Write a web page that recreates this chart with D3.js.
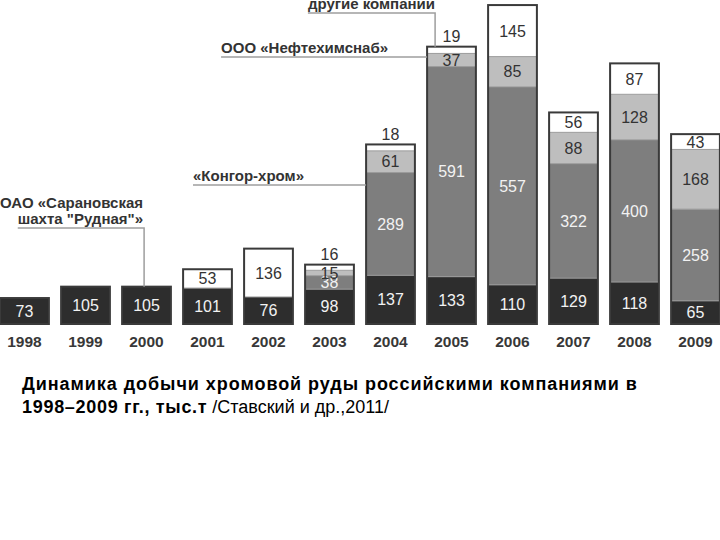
<!DOCTYPE html>
<html lang="ru">

<head>
    <meta charset="UTF-8">
    <title>Добыча хромовой руды 1998–2009</title>
    <script src="https://d3js.org/d3.v7.min.js"></script>
    <style>
        body {
            margin: 0;
            background: #fff;
        }

        svg {
            display: block;
            font-family: "Liberation Sans", Arial, sans-serif;
        }
    </style>
</head>

<body>
    <svg width="720" height="540"></svg>

    <script>
        // данные, тыс. т
        const years = ["1998", "1999", "2000", "2001", "2002", "2003", "2004", "2005", "2006", "2007", "2008", "2009"];
        const saranovskaya = [73, 105, 105, 101, 76, 98, 137, 133, 110, 129, 118, 65];
        const kongor = [0, 0, 0, 0, 0, 38, 289, 591, 557, 322, 400, 258];
        const neftekhim = [0, 0, 0, 0, 0, 15, 61, 37, 85, 88, 128, 168];
        const others = [0, 0, 0, 53, 136, 16, 18, 19, 145, 56, 87, 43];

        const keys = ["saranovskaya", "kongor", "neftekhim", "others"];
        const fills = { saranovskaya: "#2d2d2d", kongor: "#7e7e7e", neftekhim: "#bebebe", others: "#ffffff" };
        const textFill = { saranovskaya: "#f2f2f2", kongor: "#f2f2f2", neftekhim: "#333", others: "#333" };

        const table = years.map((y, i) => ({
            year: y,
            saranovskaya: saranovskaya[i],
            kongor: kongor[i],
            neftekhim: neftekhim[i],
            others: others[i]
        }));

        const svg = d3.select("svg");
        const baseY = 324;

        const x = d3.scaleBand()
            .domain(years)
            .range([-6, 726])
            .paddingInner(0.2)
            .paddingOuter(0.1);

        const y = d3.scaleLinear()
            .domain([0, 900])
            .range([baseY, 4]);

        const series = d3.stack().keys(keys)(table);

        // сегменты столбцов
        const layer = svg.append("g").selectAll("g")
            .data(series)
            .join("g")
            .attr("fill", d => fills[d.key]);

        layer.selectAll("rect")
            .data(d => d.filter(p => p[1] > p[0]))
            .join("rect")
            .attr("x", d => x(d.data.year))
            .attr("y", d => y(d[1]))
            .attr("width", x.bandwidth())
            .attr("height", d => y(d[0]) - y(d[1]));

        // тонкие границы между сегментами
        layer.selectAll("line")
            .data(d => d.filter(p => p[1] > p[0] && p[0] > 0))
            .join("line")
            .attr("x1", d => x(d.data.year))
            .attr("x2", d => x(d.data.year) + x.bandwidth())
            .attr("y1", d => y(d[0]))
            .attr("y2", d => y(d[0]))
            .attr("stroke", "#9a9a9a")
            .attr("stroke-width", 1);

        // контур столбца
        svg.append("g").selectAll("rect")
            .data(table)
            .join("rect")
            .attr("x", d => x(d.year))
            .attr("y", d => y(d3.sum(keys, k => d[k])))
            .attr("width", x.bandwidth())
            .attr("height", d => baseY - y(d3.sum(keys, k => d[k])))
            .attr("fill", "none")
            .attr("stroke", "#3a3a3a")
            .attr("stroke-width", 2);

        // подписи значений
        const labels = [];
        series.forEach(s => {
            s.forEach(p => {
                const v = p[1] - p[0];
                if (v <= 0) return;
                const outside = s.key === "others" && v < 30;
                labels.push({
                    year: p.data.year,
                    value: v,
                    key: s.key,
                    y: outside ? y(p[1]) - 10 : (y(p[0]) + y(p[1])) / 2,
                    color: outside ? "#333" : textFill[s.key]
                });
            });
        });

        svg.append("g").selectAll("text")
            .data(labels)
            .join("text")
            .attr("x", d => x(d.year) + x.bandwidth() / 2)
            .attr("y", d => d.y)
            .attr("dy", "0.36em")
            .attr("text-anchor", "middle")
            .attr("font-size", 16)
            .attr("fill", d => d.color)
            .text(d => d.value);

        // ось X
        svg.append("g").selectAll("text")
            .data(years)
            .join("text")
            .attr("x", d => x(d) + x.bandwidth() / 2)
            .attr("y", 347)
            .attr("text-anchor", "middle")
            .attr("font-size", 15.5)
            .attr("font-weight", "bold")
            .attr("fill", "#383838")
            .text(d => d);

        // выноски с названиями компаний
        const ann = svg.append("g")
            .attr("font-size", 15)
            .attr("font-weight", "bold")
            .attr("fill", "#333");

        function leader(lines, textRight, lineY, points) {
            const nodes = lines.map((t, i) => ann.append("text")
                .attr("x", textRight)
                .attr("y", lineY - 4 - (lines.length - 1 - i) * 16)
                .attr("text-anchor", "end")
                .text(t)
                .node());
            // линия начинается от последней строки
            const w = nodes[nodes.length - 1].getComputedTextLength();
            const pts = [[textRight - w, lineY]].concat(points);
            ann.append("path")
                .attr("d", d3.line()(pts))
                .attr("fill", "none")
                .attr("stroke", "#9e9e9e")
                .attr("stroke-width", 1.5);
        }

        const i05 = years.indexOf("2005");
        const top05 = y(saranovskaya[i05] + kongor[i05] + neftekhim[i05] + others[i05]);
        const x05 = x("2005");

        leader(["другие компании"], 435, 13, [[x05 + 8, 13], [x05 + 8, top05]]);
        leader(["ООО «Нефтехимснаб»"], 388, 57, [[x05, 57]]);
        leader(["«Конгор-хром»"], 304, 185, [[x("2004"), 185]]);
        leader(["ОАО «Сарановская", "шахта \"Рудная\"»"], 143, 228,
            [[x("2000") + 22, 228], [x("2000") + 22, y(saranovskaya[years.indexOf("2000")])]]);

        // подпись к рисунку
        const cap = svg.append("text")
            .attr("x", 22)
            .attr("y", 390)
            .attr("font-size", 18)
            .attr("fill", "#000");
        cap.append("tspan")
            .attr("font-weight", "bold")
            .attr("letter-spacing", 0.95)
            .text("Динамика добычи хромовой руды российскими компаниями в");
        const cap2 = svg.append("text")
            .attr("x", 22)
            .attr("y", 413)
            .attr("font-size", 18)
            .attr("fill", "#000");
        cap2.append("tspan")
            .attr("font-weight", "bold")
            .attr("letter-spacing", 0.7)
            .text("1998–2009 гг., тыс.т");
        cap2.append("tspan")
            .text(" /Ставский и др.,2011/");
    </script>
</body>

</html>
